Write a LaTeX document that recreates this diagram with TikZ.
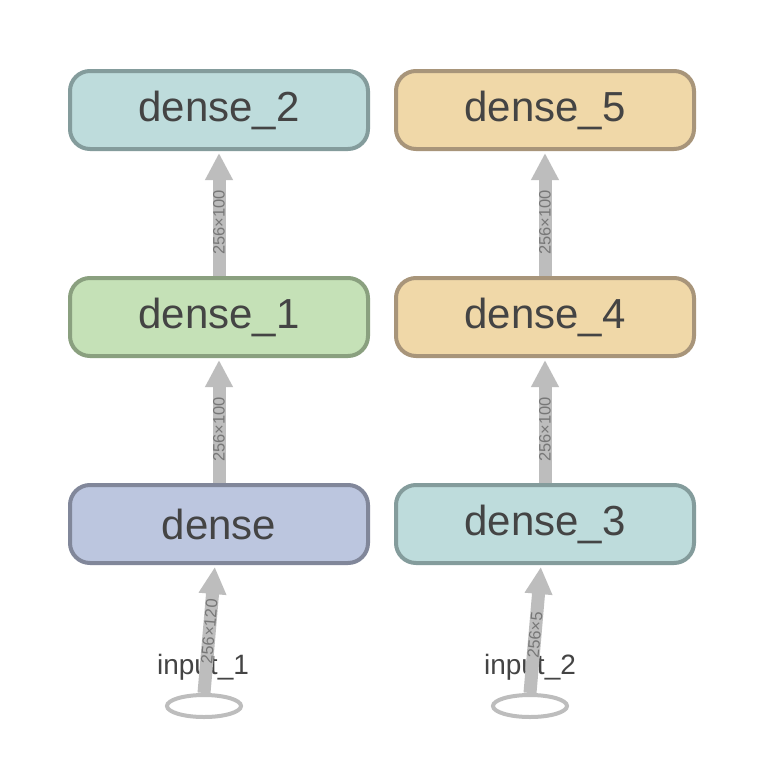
\documentclass[tikz,border=0pt]{standalone}
\usepackage{fontspec}
\setmainfont{Liberation Sans}
\usetikzlibrary{arrows.meta,shapes.geometric}
\definecolor{txt}{HTML}{444444}
\definecolor{lbl}{HTML}{777777}
\definecolor{arr}{HTML}{BDBDBD}
\definecolor{tealF}{HTML}{BEDCDC}\definecolor{tealD}{HTML}{849C9C}
\definecolor{greenF}{HTML}{C5E1B7}\definecolor{greenD}{HTML}{8AA07F}
\definecolor{blueF}{HTML}{BCC6DF}\definecolor{blueD}{HTML}{81879A}
\definecolor{sandF}{HTML}{F0D8A8}\definecolor{sandD}{HTML}{A8957A}
\tikzset{
  layer/.style={rounded corners=20pt, line width=4pt, minimum width=298pt, minimum height=78pt,
    inner sep=0pt, text=txt, font=\fontsize{42}{46}\selectfont},
  flow/.style={draw=arr, line width=13pt, -{Triangle[width=26pt,length=27pt]}, shorten >=2pt},
  dimlabel/.style={text=lbl, font=\fontsize{16.5}{18}\selectfont, sloped, inner sep=0pt},
  inlabel/.style={text=txt, font=\fontsize{28}{30}\selectfont, inner sep=0pt},
  inring/.style={draw=arr, line width=4pt, ellipse, minimum width=74pt, minimum height=22pt, inner sep=0pt}
}
\begin{document}
\begin{tikzpicture}[x=1pt,y=-1pt]
\useasboundingbox (0,0) rectangle (756,766);
\fill[white] (0,0) rectangle (756,766);
\node[layer, fill=tealF, draw=tealD] (d2) at (219,110) {\raisebox{-2pt}{dense\_2}};
\node[layer, fill=greenF, draw=greenD] (d1) at (219,317) {\raisebox{-2pt}{dense\_1}};
\node[layer, fill=blueF, draw=blueD] (d0) at (219,524) {\raisebox{-2pt}{dense}};
\node[layer, fill=sandF, draw=sandD] (d5) at (545,110) {\raisebox{-2pt}{dense\_5}};
\node[layer, fill=sandF, draw=sandD] (d4) at (545,317) {\raisebox{-2pt}{dense\_4}};
\node[layer, fill=tealF, draw=tealD] (d3) at (545,524) {\raisebox{-2pt}{dense\_3}};
\node[inlabel] (l1) at (203,667) {input\_1};
\node[inlabel] (l2) at (530,667) {input\_2};
\node[inring] (i1) at (204,706) {};
\node[inring] (i2) at (530,706) {};
\coordinate (t0) at (215,565);
\coordinate (t3) at (541,565);
\draw[flow] (i1.north) -- (t0) node[dimlabel, pos=0.48] {256×120};
\draw[flow] (i2.north) -- (t3) node[dimlabel, pos=0.45] {256×5};
\draw[flow] (d0.north) -- (d1.south) node[dimlabel, pos=0.43] {256×100};
\draw[flow] (d1.north) -- (d2.south) node[dimlabel, pos=0.43] {256×100};
\draw[flow] (d3.north) -- (d4.south) node[dimlabel, pos=0.43] {256×100};
\draw[flow] (d4.north) -- (d5.south) node[dimlabel, pos=0.43] {256×100};
\end{tikzpicture}
\end{document}
